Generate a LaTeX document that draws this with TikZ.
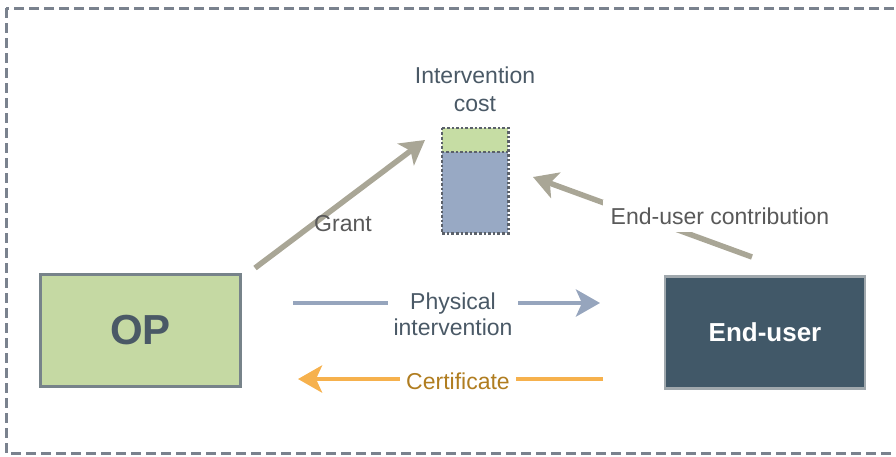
\documentclass[tikz,border=0pt]{standalone}
\usepackage{fontspec}
\setmainfont{Liberation Sans}
\usetikzlibrary{arrows.meta,calc,positioning}
\definecolor{framegray}{HTML}{7A828E}
\definecolor{opgreen}{HTML}{C5D9A3}
\definecolor{boxedge}{HTML}{77838A}
\definecolor{userslate}{HTML}{415868}
\definecolor{costblue}{HTML}{98A9C4}
\definecolor{costgreen}{HTML}{C6DDA4}
\definecolor{grantkhaki}{HTML}{A9A696}
\definecolor{physblue}{HTML}{96A5BD}
\definecolor{certorange}{HTML}{F6B14D}
\definecolor{certtext}{HTML}{B07D20}
\definecolor{labelgray}{HTML}{595959}
\definecolor{slatetext}{HTML}{4A5966}
\tikzset{
  actor/.style={draw=boxedge, line width=2.6pt, minimum width=200pt, minimum height=112pt, inner sep=0pt},
  lbl/.style={font=\fontsize{23}{28}\selectfont, align=center, inner sep=2pt},
  flow/.style={line width=5.5pt, -{Stealth[length=24pt, width=27pt, inset=6pt]}},
}
\begin{document}
\begin{tikzpicture}[x=1pt, y=-1pt]
  \useasboundingbox (0,0) rectangle (896,456);
  \draw[framegray, line width=3pt, dash pattern=on 10pt off 5pt] (6,8) rectangle (905,453);
  \node[actor, fill=opgreen, font=\fontsize{42}{42}\selectfont\bfseries, text=slatetext] (op) at (140.5,330.5) {OP};
  \node[actor, fill=userslate, draw=boxedge!70!white, font=\fontsize{26}{26}\selectfont\bfseries, text=white] (user) at (765,332.5) {End-user};
  \node[draw=none, fill=costblue, minimum width=66pt, minimum height=105pt, inner sep=0pt] (cost) at (475,180.5) {};
  \fill[costgreen] (cost.north west) rectangle ($(cost.north east)+(0,24)$);
  \draw[line width=2.6pt, dash pattern=on 2.6pt off 2pt, draw=framegray!75!black] (cost.north west) rectangle (cost.south east)
    ($(cost.north west)+(0,24)$) -- ($(cost.north east)+(0,24)$);
  \node[lbl, text=slatetext, above=14pt of cost] (costlbl) {Intervention\\cost};
  \coordinate (grant-s) at (255,268);
  \coordinate (grant-e) at (425,140);
  \draw[flow, grantkhaki] (grant-s) -- (grant-e);
  \node[lbl, text=labelgray] (grant) at (343,224) {Grant};
  \coordinate (contr-s) at (752,257);
  \coordinate (contr-e) at (533,177);
  \draw[flow, grantkhaki] (contr-s) -- (contr-e);
  \node[lbl, text=labelgray, fill=white, inner sep=8pt] (contr) at (720,216) {End-user contribution};
  \coordinate (phys-s) at (293,303);
  \coordinate (phys-e) at (600,303);
  \draw[flow, physblue, line width=4.5pt] (phys-s) -- (phys-e);
  \node[lbl, text=slatetext, fill=white, inner sep=6pt, font=\fontsize{23}{26}\selectfont] (phys) at (453,314) {Physical\\intervention};
  \coordinate (cert-s) at (603,379);
  \coordinate (cert-e) at (298,379);
  \draw[flow, certorange, line width=4.5pt] (cert-s) -- (cert-e);
  \node[lbl, text=certtext, fill=white, inner sep=6pt] (cert) at (458,381) {Certificate};
\end{tikzpicture}
\end{document}
